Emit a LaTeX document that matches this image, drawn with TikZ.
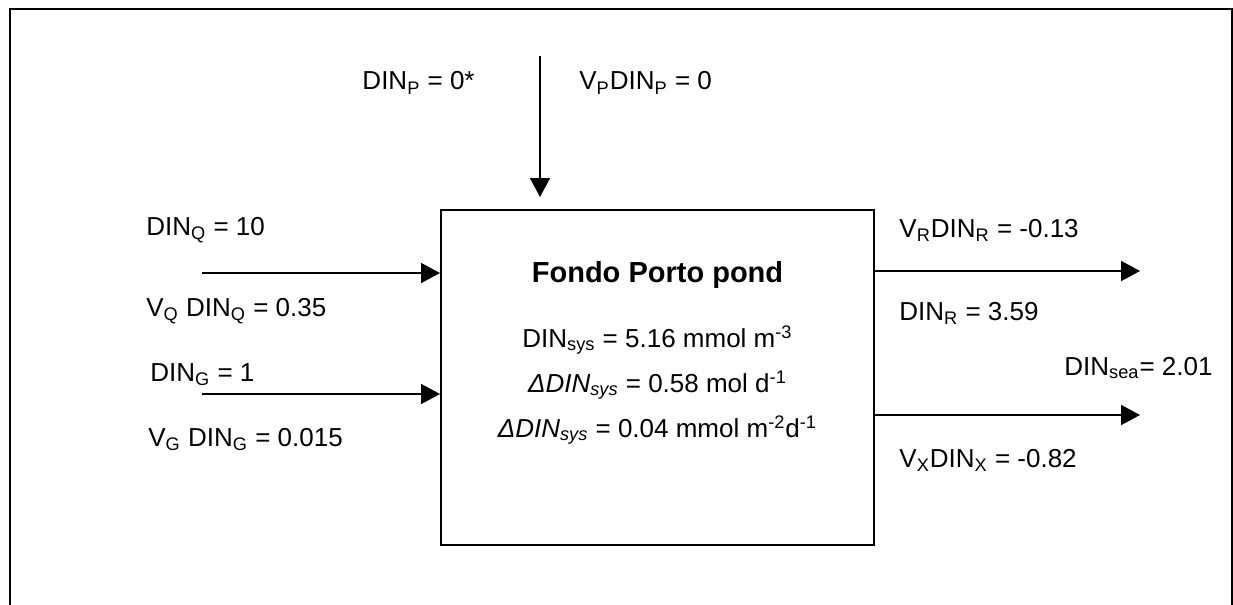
\documentclass[tikz,border=0pt]{standalone}
\usepackage{fontspec}
\setmainfont{Liberation Sans}
\usetikzlibrary{arrows.meta,calc}
\newcommand{\dsub}[1]{\textsubscript{#1}}
\newcommand{\dsup}[1]{\textsuperscript{#1}}
\tikzset{
  lbl/.style={inner sep=0pt,anchor=base west,font=\fontsize{13pt}{15pt}\selectfont},
  flow/.style={-{Triangle[length=9.5pt,width=10pt]},line width=0.8pt},
  pondbox/.style={draw,line width=1pt,minimum width=216.5pt,minimum height=167.5pt,inner sep=0pt},
}

\begin{document}
\begin{tikzpicture}[x=0.5pt,y=-0.5pt]
  \useasboundingbox (0,0) rectangle (1233,605);
  % outer frame, open at the bottom
  \draw[line width=1pt] (10,605) -- (10,9) -- (1232,9) -- (1232,605);

  % the pond
  \node[pondbox] (pond) at (657.5,377.5) {};
  \node[lbl,anchor=base,font=\fontsize{14.5pt}{17pt}\selectfont\bfseries] (title) at (657.5,282) {Fondo Porto pond};
  \node[lbl,anchor=base] (sysconc) at (657.5,347) {DIN\dsub{sys} = 5.16 mmol m\dsup{-3}};
  \node[lbl,anchor=base] (sysmol) at (657.5,392) {\textit{ΔDIN\dsub{sys}} = 0.58 mol d\dsup{-1}};
  \node[lbl,anchor=base] (sysarea) at (657.5,437) {\textit{ΔDIN\dsub{sys}} = 0.04 mmol m\dsup{-2}d\dsup{-1}};

  % precipitation
  \coordinate (pin) at (540,56);
  \draw[flow,shorten >=6pt] (pin) -- (pin |- pond.north);
  \node[lbl,anchor=base east] (dinp) at (475,90) {DIN\dsub{P} = 0*};
  \node[lbl] (vpdinp) at (579,90) {V\dsub{P}DIN\dsub{P} = 0};

  % inputs from the left
  \coordinate (qin) at (202,273);
  \coordinate (gin) at (202,394);
  \draw[flow] (qin) -- (qin -| pond.west);
  \draw[flow] (gin) -- (gin -| pond.west);
  \node[lbl] (dinq) at (146,235) {DIN\dsub{Q} = 10};
  \node[lbl] (vqdinq) at (146,316) {V\dsub{Q} DIN\dsub{Q} = 0.35};
  \node[lbl] (ding) at (150,381) {DIN\dsub{G} = 1};
  \node[lbl] (vgding) at (148,446) {V\dsub{G} DIN\dsub{G} = 0.015};

  % outputs to the right
  \coordinate (rout) at (1140,271);
  \coordinate (xout) at (1140,415);
  \draw[flow] (rout -| pond.east) -- (rout);
  \draw[flow] (xout -| pond.east) -- (xout);
  \node[lbl] (vrdinr) at (899,237) {V\dsub{R}DIN\dsub{R} = -0.13};
  \node[lbl] (dinr) at (899,320) {DIN\dsub{R} = 3.59};
  \node[lbl] (dinsea) at (1064,375) {DIN\dsub{sea}= 2.01};
  \node[lbl] (vxdinx) at (899,467) {V\dsub{X}DIN\dsub{X} = -0.82};
\end{tikzpicture}
\end{document}
